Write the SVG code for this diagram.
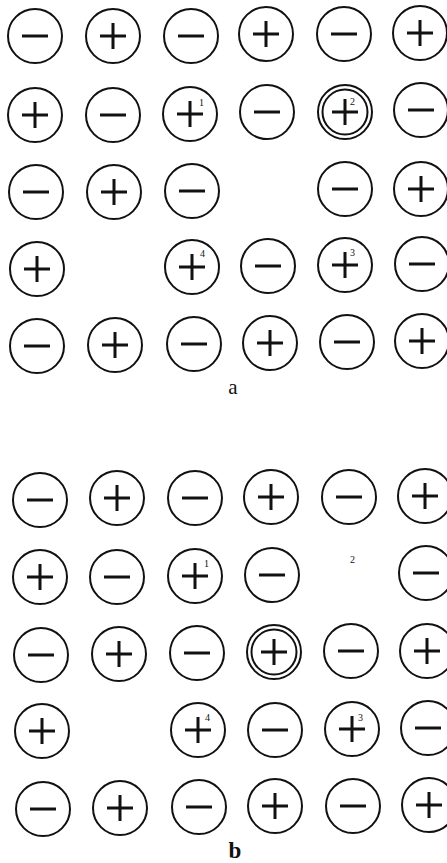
<svg xmlns="http://www.w3.org/2000/svg" width="447" height="863" viewBox="0 0 447 863">
<style>
.c{fill:none;stroke:#111;stroke-width:2}
.s{stroke:#111;stroke-width:3;stroke-linecap:butt}
.n{font-family:"Liberation Serif",serif;font-size:10px;fill:#111}
.l{font-family:"Liberation Serif",serif;fill:#111;text-anchor:middle}
</style>
<defs>
<g id="P"><circle class="c" r="27"/><path class="s" d="M-13 0H13M0 -13V13"/></g>
<g id="M"><circle class="c" r="27"/><path class="s" d="M-13 0H13"/></g>
<g id="D"><circle class="c" r="27"/><circle class="c" r="22.5"/><path class="s" d="M-13 0H13M0 -13V13"/></g>
</defs>
<rect width="447" height="863" fill="#fff"/>
<g id="gridA">
<g id="a11"><use href="#M" x="35" y="36"/></g>
<g id="a12"><use href="#P" x="113" y="36"/></g>
<g id="a13"><use href="#M" x="191" y="36"/></g>
<g id="a14"><use href="#P" x="266" y="34"/></g>
<g id="a15"><use href="#M" x="344" y="34"/></g>
<g id="a16"><use href="#P" x="420" y="33"/></g>
<g id="a21"><use href="#P" x="35" y="115"/></g>
<g id="a22"><use href="#M" x="113" y="115"/></g>
<g id="a23"><use href="#P" x="190" y="114"/><text class="n" x="199" y="106">1</text></g>
<g id="a24"><use href="#M" x="267" y="112"/></g>
<g id="a25"><use href="#D" x="345" y="112"/><text class="n" x="350" y="105">2</text></g>
<g id="a26"><use href="#M" x="421" y="110"/></g>
<g id="a31"><use href="#M" x="36" y="192"/></g>
<g id="a32"><use href="#P" x="114" y="192"/></g>
<g id="a33"><use href="#M" x="192" y="191"/></g>
<g id="a35"><use href="#M" x="345" y="189"/></g>
<g id="a36"><use href="#P" x="421" y="189"/></g>
<g id="a41"><use href="#P" x="37" y="269"/></g>
<g id="a43"><use href="#P" x="192" y="267"/><text class="n" x="200" y="257">4</text></g>
<g id="a44"><use href="#M" x="268" y="266"/></g>
<g id="a45"><use href="#P" x="345" y="265"/><text class="n" x="350" y="256">3</text></g>
<g id="a46"><use href="#M" x="422" y="264"/></g>
<g id="a51"><use href="#M" x="37" y="346"/></g>
<g id="a52"><use href="#P" x="115" y="345"/></g>
<g id="a53"><use href="#M" x="194" y="344"/></g>
<g id="a54"><use href="#P" x="270" y="343"/></g>
<g id="a55"><use href="#M" x="347" y="342"/></g>
<g id="a56"><use href="#P" x="422" y="341"/></g>
<text id="labelA" class="l" x="233" y="394" font-size="21">a</text>
</g>
<g id="gridB">
<g id="b11"><use href="#M" x="40" y="500"/></g>
<g id="b12"><use href="#P" x="117" y="498"/></g>
<g id="b13"><use href="#M" x="195" y="498"/></g>
<g id="b14"><use href="#P" x="271" y="497"/></g>
<g id="b15"><use href="#M" x="349" y="497"/></g>
<g id="b16"><use href="#P" x="425" y="496"/></g>
<g id="b21"><use href="#P" x="40" y="577"/></g>
<g id="b22"><use href="#M" x="117" y="577"/></g>
<g id="b23"><use href="#P" x="195" y="576"/><text class="n" x="204" y="567">1</text></g>
<text id="b25" class="n" x="350" y="563">2</text>
<g id="b24"><use href="#M" x="272" y="575"/></g>
<g id="b26"><use href="#M" x="426" y="573"/></g>
<g id="b31"><use href="#M" x="41" y="655"/></g>
<g id="b32"><use href="#P" x="119" y="654"/></g>
<g id="b33"><use href="#M" x="197" y="653"/></g>
<g id="b34"><use href="#D" x="274" y="652"/></g>
<g id="b35"><use href="#M" x="351" y="651"/></g>
<g id="b36"><use href="#P" x="427" y="651"/></g>
<g id="b41"><use href="#P" x="42" y="731"/></g>
<g id="b43"><use href="#P" x="198" y="730"/><text class="n" x="205" y="721">4</text></g>
<g id="b44"><use href="#M" x="275" y="730"/></g>
<g id="b45"><use href="#P" x="352" y="729"/><text class="n" x="358" y="721">3</text></g>
<g id="b46"><use href="#M" x="428" y="728"/></g>
<g id="b51"><use href="#M" x="43" y="809"/></g>
<g id="b52"><use href="#P" x="120" y="808"/></g>
<g id="b53"><use href="#M" x="199" y="807"/></g>
<g id="b54"><use href="#P" x="275" y="806"/></g>
<g id="b55"><use href="#M" x="353" y="806"/></g>
<g id="b56"><use href="#P" x="429" y="805"/></g>
<text id="labelB" class="l" x="235" y="858" font-size="23" font-weight="bold">b</text>
</g>
</svg>
